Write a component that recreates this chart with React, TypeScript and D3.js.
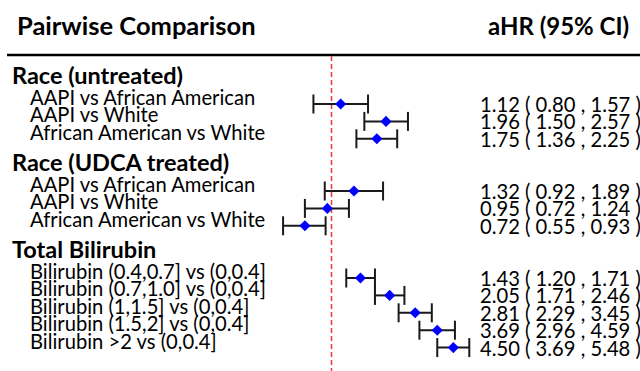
import React from 'react'
import { scaleLog, scaleLinear, symbol, symbolSquare, format } from 'd3'

const groups = ['Race (untreated)', 'Race (UDCA treated)', 'Total Bilirubin']
const groupOf = [0, 0, 0, 1, 1, 1, 2, 2, 2, 2, 2]
const comparisons = [
  'AAPI vs African American',
  'AAPI vs White',
  'African American vs White',
  'AAPI vs African American',
  'AAPI vs White',
  'African American vs White',
  'Bilirubin (0.4,0.7] vs (0,0.4]',
  'Bilirubin (0.7,1.0] vs (0,0.4]',
  'Bilirubin (1,1.5] vs (0,0.4]',
  'Bilirubin (1.5,2] vs (0,0.4]',
  'Bilirubin >2 vs (0,0.4]',
]
const hr = [1.12, 1.96, 1.75, 1.32, 0.95, 0.72, 1.43, 2.05, 2.81, 3.69, 4.5]
const lower = [0.8, 1.5, 1.36, 0.92, 0.72, 0.55, 1.2, 1.71, 2.29, 2.96, 3.69]
const upper = [1.57, 2.57, 2.25, 1.89, 1.24, 0.93, 1.71, 2.46, 3.45, 4.59, 5.48]

const W = 640
const H = 371
const font = 'Lato, Carlito, Calibri, sans-serif'

export default function App() {
  // log scale, 1 sits on the dashed reference line
  const x = scaleLog().domain([0.5, 6]).range([331.5 - 81 * Math.log(2), 331.5 + 81 * Math.log(6)])
  const slots = groupOf.map((g, i) => g * 5 + groupOf.slice(0, i).filter(v => v === g).length)
  const y = scaleLinear().domain([0, 14]).range([104, 347.6])
  const f2 = format('.2f')
  const diamond = symbol(symbolSquare, 62)() as string
  const cap = 9.5

  return (
    <svg width={W} height={H} style={{ position: 'absolute', left: 0, top: 0, background: '#fff' }}
      fontFamily={font}>
      <text x={17} y={25} fontSize={25.5} fontWeight="bold" dominantBaseline="central" fill="#000">Pairwise Comparison</text>
      <text x={488} y={25} fontSize={24} fontWeight="bold" dominantBaseline="central" fill="#000">aHR (95% CI)</text>
      <line x1={7} x2={W} y1={55} y2={55} stroke="#000" strokeWidth={2.5} />
      <line x1={x(1)} x2={x(1)} y1={56} y2={H} stroke="#e8373f" strokeWidth={1.5} strokeDasharray="5,3" />

      {groups.map((g, gi) => (
        <text key={g} x={12} y={y(gi * 5) - 29} fontSize={23.5} fontWeight="bold" dominantBaseline="central" fill="#000">{g}</text>
      ))}

      {comparisons.map((c, i) => {
        const cy = y(slots[i])
        return (
          <g key={i}>
            <text x={30} y={cy - 7} fontSize={20.2} dominantBaseline="central" fill="#000">{c}</text>
            <g stroke="#1a1a1a" strokeWidth={2}>
              <line x1={x(lower[i])} x2={x(upper[i])} y1={cy} y2={cy} />
              <line x1={x(lower[i])} x2={x(lower[i])} y1={cy - cap} y2={cy + cap} />
              <line x1={x(upper[i])} x2={x(upper[i])} y1={cy - cap} y2={cy + cap} />
            </g>
            <path d={diamond} transform={`translate(${x(hr[i])},${cy}) rotate(45)`} fill="#0000ff" />
            <text x={480} y={cy} fontSize={20.2} dominantBaseline="central" fill="#000">
              {`${f2(hr[i])} ( ${f2(lower[i])} , ${f2(upper[i])} )`}
            </text>
          </g>
        )
      })}
    </svg>
  )
}
